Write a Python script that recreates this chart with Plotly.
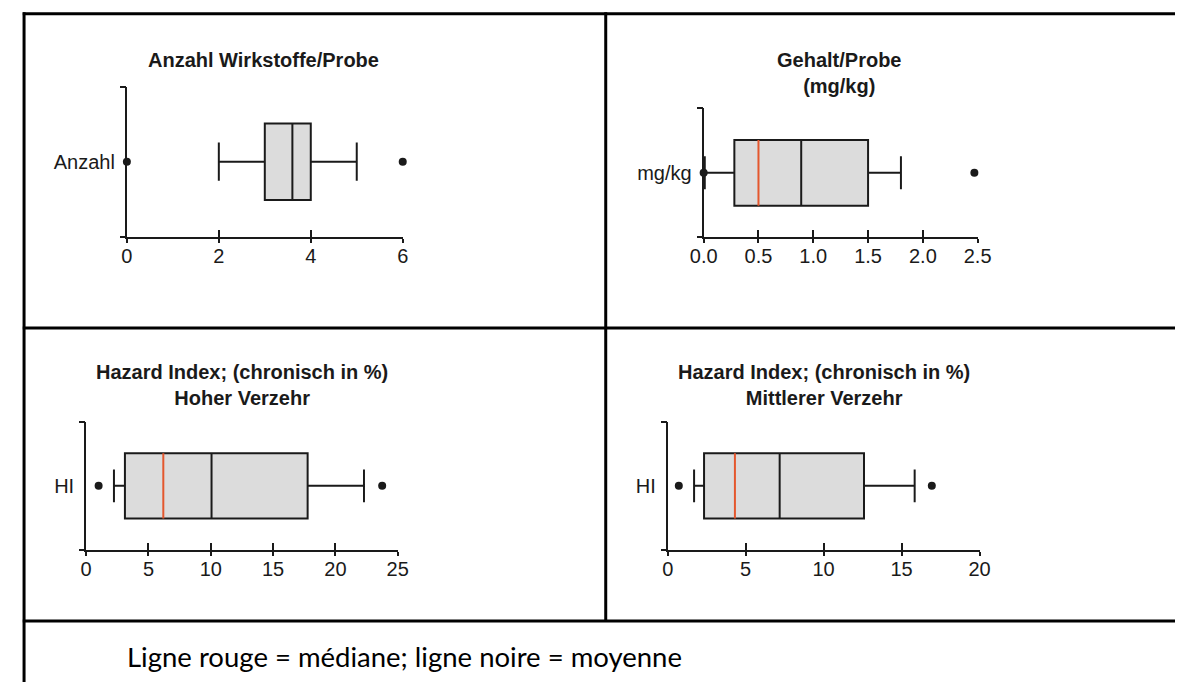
import plotly.graph_objects as go

# ---------------- data ----------------
titles = [
    "<b>Anzahl Wirkstoffe/Probe</b>",
    "<b>Gehalt/Probe<br>(mg/kg)</b>",
    "<b>Hazard Index; (chronisch in %)<br>Hoher Verzehr</b>",
    "<b>Hazard Index; (chronisch in %)<br>Mittlerer Verzehr</b>",
]
row_labels = ["Anzahl", "mg/kg", "HI", "HI"]
q1 = [3.0, 0.28, 3.11, 2.33]
q3 = [4.0, 1.50, 17.77, 12.59]
medians = [None, 0.50, 6.19, 4.31]
means = [3.6, 0.89, 10.06, 7.18]
whisker_low = [2.0, 0.01, 2.23, 1.69]
whisker_high = [5.0, 1.80, 22.29, 15.84]
outliers = [[0.0, 6.0], [0.0, 2.47], [1.0, 23.75], [0.71, 16.94]]
x_max = [6, 2.5, 25, 20]
x_dtick = [2, 0.5, 5, 5]
tick_format = ["d", ".1f", "d", "d"]
caption = "Ligne rouge = médiane; ligne noire = moyenne"

# ---------------- layout geometry (pixels) ----------------
W, H = 1189, 682
panel_px = [  # x_left, x_right, y_bottom, y_top
    (115.6, 398.1, 236.7, 86.7),
    (706.3, 986.9, 237.3, 108.3),
    (73.9, 393.0, 550.0, 421.7),
    (669.5, 988.8, 550.0, 421.7),
]
title_px = [(256, 60), (845, 72.5), (234, 385), (830, 385)]

FONT = "Liberation Sans, Arial, sans-serif"
FS = 20
INK = "#1a1a1a"
BOX_W = 1.02


def px(x):
    return x / W


def py(y):
    return 1 - y / H


fig = go.Figure()
layout_axes = {}

for i in range(4):
    n = i + 1
    xs = "x" if n == 1 else f"x{n}"
    ys = "y" if n == 1 else f"y{n}"
    xo, yo_out, yo_in = f"x{n + 4}", f"y{n + 4}", f"y{n + 8}"
    x0, x1, yb, yt = panel_px[i]
    ticks = []
    v = 0.0
    while v <= x_max[i] + 1e-9:
        ticks.append(round(v, 6))
        v += x_dtick[i]

    # box (black centre line = mean)
    fig.add_trace(go.Box(
        y=[0], q1=[q1[i]], median=[means[i]], q3=[q3[i]],
        lowerfence=[whisker_low[i]], upperfence=[whisker_high[i]],
        orientation="h", width=BOX_W, whiskerwidth=0.5,
        fillcolor="#dcdcdc", line=dict(color=INK, width=2),
        boxpoints=False, hoverinfo="skip", showlegend=False,
        xaxis=xs, yaxis=ys,
    ))
    # red median line
    if medians[i] is not None:
        fig.add_trace(go.Scatter(
            x=[medians[i], medians[i]], y=[-BOX_W / 2, BOX_W / 2],
            mode="lines", line=dict(color="#e4572e", width=2),
            hoverinfo="skip", showlegend=False, xaxis=xs, yaxis=ys,
        ))
    # outliers
    fig.add_trace(go.Scatter(
        x=outliers[i], y=[0] * len(outliers[i]), mode="markers",
        marker=dict(color=INK, size=8), cliponaxis=False,
        hoverinfo="skip", showlegend=False, xaxis=xs, yaxis=ys,
    ))
    # dummy traces for overlay axes
    fig.add_trace(go.Scatter(x=[], y=[], xaxis=xo, yaxis=ys, showlegend=False, hoverinfo="skip"))
    fig.add_trace(go.Scatter(x=[], y=[], xaxis=xs, yaxis=yo_out, showlegend=False, hoverinfo="skip"))
    fig.add_trace(go.Scatter(x=[], y=[], xaxis=xs, yaxis=yo_in, showlegend=False, hoverinfo="skip"))

    common = dict(showgrid=False, zeroline=False, fixedrange=True)
    layout_axes["xaxis" if n == 1 else f"xaxis{n}"] = dict(
        domain=[px(x0), px(x1)], range=[0, x_max[i]], anchor=ys,
        showline=True, linecolor=INK, linewidth=2,
        tickmode="array", tickvals=ticks, tickformat=tick_format[i],
        ticks="outside", ticklen=4, tickwidth=2, tickcolor=INK,
        tickfont=dict(family=FONT, size=FS, color=INK), ticklabelstandoff=-4,
        **common,
    )
    layout_axes[f"xaxis{n + 4}"] = dict(
        overlaying=xs, anchor=ys, range=[0, x_max[i]], side="bottom",
        tickmode="array", tickvals=ticks, ticks="inside", ticklen=7,
        tickwidth=2, tickcolor=INK, showticklabels=False, showline=False,
        **common,
    )
    layout_axes["yaxis" if n == 1 else f"yaxis{n}"] = dict(
        domain=[py(yb), py(yt)], range=[-1, 1], anchor=xs,
        showline=True, linecolor=INK, linewidth=2,
        tickmode="array", tickvals=[0], ticktext=[row_labels[i]], ticks="",
        tickfont=dict(family=FONT, size=FS, color=INK), ticklabelstandoff=6,
        **common,
    )
    for name, tdir in ((f"yaxis{n + 4}", "outside"), (f"yaxis{n + 8}", "inside")):
        layout_axes[name] = dict(
            overlaying=ys, anchor=xs, range=[-1, 1], side="left",
            tickmode="array", tickvals=[-1, 1], ticks=tdir, ticklen=6,
            tickwidth=2, tickcolor=INK, showticklabels=False, showline=False,
            **common,
        )

annotations = []
for i in range(4):
    tx, ty = title_px[i]
    annotations.append(dict(
        text=titles[i], x=px(tx), y=py(ty), xref="paper", yref="paper",
        xanchor="center", yanchor="middle", showarrow=False, align="center",
        font=dict(family=FONT, size=FS, color=INK),
    ))
annotations.append(dict(
    text=caption, x=px(114), y=py(656), xref="paper", yref="paper",
    xanchor="left", yanchor="middle", showarrow=False,
    font=dict(family="Lato, Carlito, sans-serif", size=27.5, color="#000000"),
))

# table borders
BL = 3
shapes = [
    dict(type="line", x0=px(9), x1=px(1189), y0=py(13.7), y1=py(13.7)),
    dict(type="line", x0=px(10.3), x1=px(10.3), y0=py(12.3), y1=py(682)),
    dict(type="line", x0=px(606), x1=px(606), y0=py(12.3), y1=py(621)),
    dict(type="line", x0=px(9), x1=px(1189), y0=py(328), y1=py(328)),
    dict(type="line", x0=px(9), x1=px(1189), y0=py(621), y1=py(621)),
]
for s in shapes:
    s.update(xref="paper", yref="paper", line=dict(color="#000000", width=BL))

fig.update_layout(
    width=W, height=H, margin=dict(l=0, r=0, t=0, b=0),
    paper_bgcolor="white", plot_bgcolor="white",
    showlegend=False, annotations=annotations, shapes=shapes,
    **layout_axes,
)

fig.write_html(
    "out.html",
    config={"displayModeBar": False},
    post_script="document.body.style.margin='0';document.body.style.overflow='hidden';",
)
